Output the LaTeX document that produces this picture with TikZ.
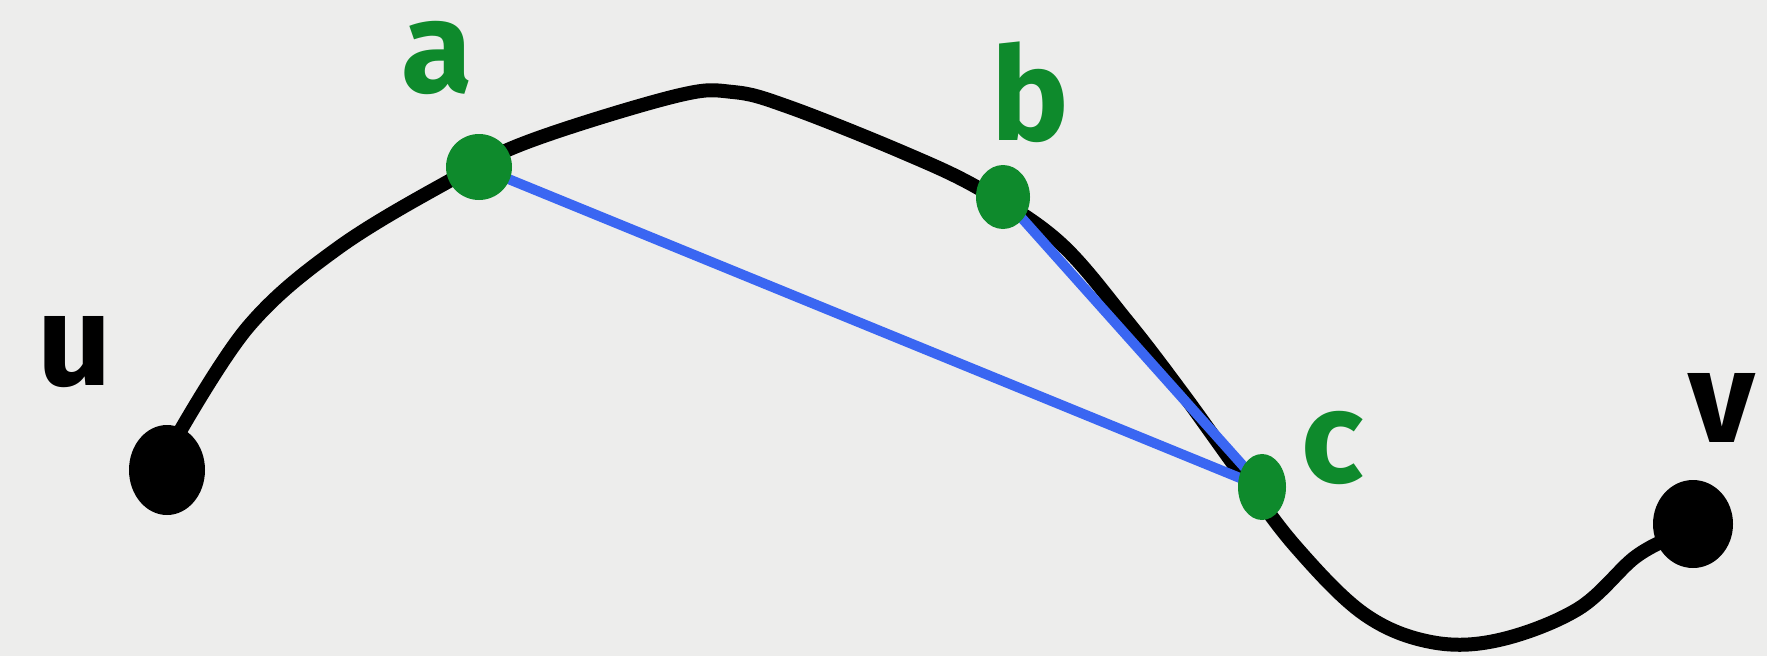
\documentclass[tikz,border=0pt]{standalone}
\usepackage{fontspec}
\setmainfont{Fira Sans}
\definecolor{paper}{HTML}{EDEDEC}
\definecolor{dotgreen}{HTML}{0E8A2C}
\definecolor{lineblue}{HTML}{3A66F2}
\tikzset{
  curve/.style={line width=14pt, black, line cap=round, line join=round},
  chord/.style={line width=10pt, lineblue, line cap=round},
  lbl/.style={font=\fontsize{130}{130}\selectfont\bfseries, inner sep=0pt},
}
\begin{document}
\begin{tikzpicture}[x=1pt,y=-1pt]
\fill[paper] (0,0) rectangle (1767,656);
\useasboundingbox (0,0) rectangle (1767,656);
\draw[curve] plot[smooth, tension=0.6] coordinates {(175,440) (248,327) (338,248) (451,180) (530,141) (676,96) (733,92) (789,107) (902,152) (980,189) (1059,242) (1127,321) (1183,394) (1240,473) (1296,547) (1364,614) (1431,642) (1499,640) (1578,609) (1634,558) (1668,539)};
\coordinate (pu) at (167,470);
\coordinate (pa) at (479,167);
\coordinate (pb) at (1003,197);
\coordinate (pc) at (1262,487);
\coordinate (pv) at (1693,524);
\draw[chord] (pa) -- (pc);
\draw[chord] (pb) -- (pc);
\fill[black] (pu) ellipse [x radius=38, y radius=45];
\fill[black] (pv) ellipse [x radius=40, y radius=44];
\fill[dotgreen] (pa) circle [radius=33];
\fill[dotgreen] (pb) ellipse [x radius=27, y radius=32];
\fill[dotgreen] (pc) ellipse [x radius=24, y radius=33];
\node[lbl, black] (lu) at (75,352) {u};
\node[lbl, dotgreen] (la) at (437,58) {a};
\node[lbl, dotgreen] (lb) at (1030,92) {b};
\node[lbl, dotgreen] (lc) at (1333,448) {c};
\node[lbl, black] (lv) at (1722,408) {v};
\end{tikzpicture}
\end{document}
